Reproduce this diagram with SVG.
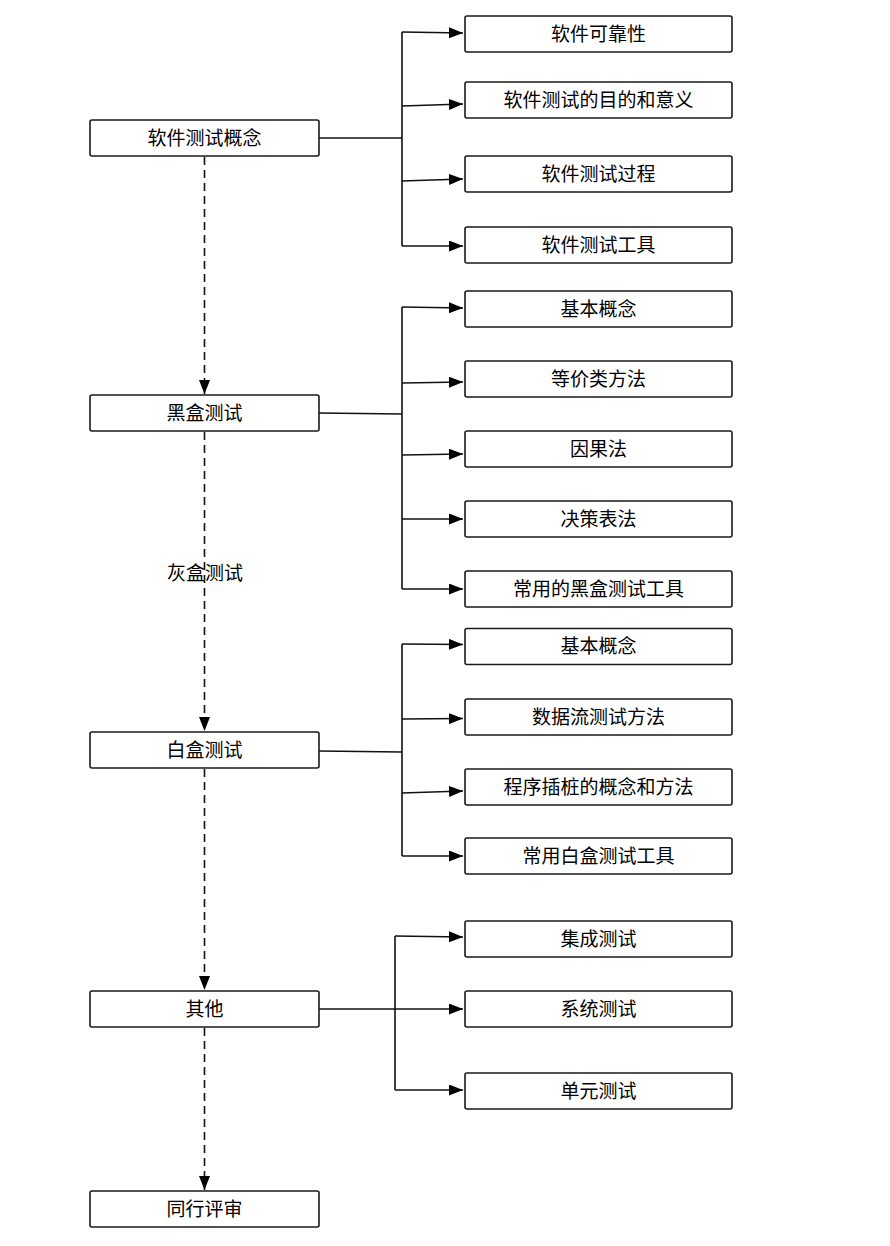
<svg xmlns="http://www.w3.org/2000/svg" width="890" height="1246" viewBox="0 0 890 1246">
<style>
.box{fill:#fff;stroke:#1a1a1a;stroke-width:1.6}
.t{font-family:"Liberation Sans","Noto Sans CJK SC",sans-serif;font-size:19px;fill:#000;text-anchor:middle;dominant-baseline:central}
.c{fill:none;stroke:#111;stroke-width:1.6}
.a{marker-end:url(#ah)}
.d{fill:none;stroke:#111;stroke-width:1.6;stroke-dasharray:8 5;marker-end:url(#ah)}
</style>
<defs>
<marker id="ah" markerUnits="userSpaceOnUse" markerWidth="15" markerHeight="11" refX="14" refY="5.5" orient="auto">
<path d="M0,0 L14,5.5 L0,11 z" fill="#000"/>
</marker>
</defs>
<rect width="890" height="1246" fill="#fff"/>
<g id="connectors">
<path class="c" d="M319,138 H402 M402,32 V246"/>
<path class="c a" d="M402,32 L463,33"/>
<path class="c a" d="M402,106 L463,104"/>
<path class="c a" d="M402,181 L463,179"/>
<path class="c a" d="M402,246 L463,246"/>
<path class="c" d="M319,413 L402,414 M402,307 V589"/>
<path class="c a" d="M402,307 L463,308"/>
<path class="c a" d="M402,383 L463,382"/>
<path class="c a" d="M402,455 L463,454"/>
<path class="c a" d="M402,519 L463,519"/>
<path class="c a" d="M402,589 L463,589"/>
<path class="c" d="M319,751 L402,752 M402,644 V856"/>
<path class="c a" d="M402,644 L463,644.5"/>
<path class="c a" d="M402,719 L463,718.5"/>
<path class="c a" d="M402,793 L463,791"/>
<path class="c a" d="M402,856 L463,856"/>
<path class="c" d="M395,936 V1090"/>
<path class="c a" d="M319,1009 L463,1009"/>
<path class="c a" d="M395,936 L463,937"/>
<path class="c a" d="M395,1090 L463,1090"/>
<path class="d" d="M204.5,157 V394"/>
<path class="d" d="M204.5,432 V731"/>
<path class="d" d="M204.5,769 V990"/>
<path class="d" d="M204.5,1028 V1190"/>
<text class="t" x="205" y="573">灰盒测试</text>
</g>
<g id="n1"><rect class="box" x="90" y="120" width="229" height="36" rx="2"/><text class="t" x="204.5" y="138">软件测试概念</text></g>
<g id="n2"><rect class="box" x="90" y="395" width="229" height="36" rx="2"/><text class="t" x="204.5" y="413">黑盒测试</text></g>
<g id="n3"><rect class="box" x="90" y="732" width="229" height="36" rx="2"/><text class="t" x="204.5" y="750">白盒测试</text></g>
<g id="n4"><rect class="box" x="90" y="991" width="229" height="36" rx="2"/><text class="t" x="204.5" y="1009">其他</text></g>
<g id="n5"><rect class="box" x="90" y="1191" width="229" height="36" rx="2"/><text class="t" x="204.5" y="1209">同行评审</text></g>
<g id="r1"><rect class="box" x="465" y="16" width="267" height="36" rx="2"/><text class="t" x="598.5" y="34">软件可靠性</text></g>
<g id="r2"><rect class="box" x="465" y="82" width="267" height="36" rx="2"/><text class="t" x="598.5" y="100">软件测试的目的和意义</text></g>
<g id="r3"><rect class="box" x="465" y="156" width="267" height="36" rx="2"/><text class="t" x="598.5" y="174">软件测试过程</text></g>
<g id="r4"><rect class="box" x="465" y="227" width="267" height="36" rx="2"/><text class="t" x="598.5" y="245">软件测试工具</text></g>
<g id="r5"><rect class="box" x="465" y="291" width="267" height="36" rx="2"/><text class="t" x="598.5" y="309">基本概念</text></g>
<g id="r6"><rect class="box" x="465" y="361" width="267" height="36" rx="2"/><text class="t" x="598.5" y="379">等价类方法</text></g>
<g id="r7"><rect class="box" x="465" y="431" width="267" height="36" rx="2"/><text class="t" x="598.5" y="449">因果法</text></g>
<g id="r8"><rect class="box" x="465" y="501" width="267" height="36" rx="2"/><text class="t" x="598.5" y="519">决策表法</text></g>
<g id="r9"><rect class="box" x="465" y="571" width="267" height="36" rx="2"/><text class="t" x="598.5" y="589">常用的黑盒测试工具</text></g>
<g id="r10"><rect class="box" x="465" y="628.5" width="267" height="36" rx="2"/><text class="t" x="598.5" y="646.5">基本概念</text></g>
<g id="r11"><rect class="box" x="465" y="699" width="267" height="36" rx="2"/><text class="t" x="598.5" y="717">数据流测试方法</text></g>
<g id="r12"><rect class="box" x="465" y="769" width="267" height="36" rx="2"/><text class="t" x="598.5" y="787">程序插桩的概念和方法</text></g>
<g id="r13"><rect class="box" x="465" y="838" width="267" height="36" rx="2"/><text class="t" x="598.5" y="856">常用白盒测试工具</text></g>
<g id="r14"><rect class="box" x="465" y="921" width="267" height="36" rx="2"/><text class="t" x="598.5" y="939">集成测试</text></g>
<g id="r15"><rect class="box" x="465" y="991" width="267" height="36" rx="2"/><text class="t" x="598.5" y="1009">系统测试</text></g>
<g id="r16"><rect class="box" x="465" y="1073" width="267" height="36" rx="2"/><text class="t" x="598.5" y="1091">单元测试</text></g>
</svg>
